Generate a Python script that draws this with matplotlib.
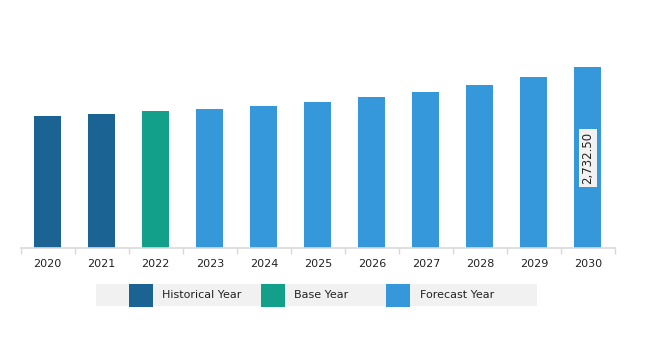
import matplotlib
matplotlib.use("Agg")
import matplotlib.pyplot as plt
from matplotlib.patches import Rectangle

years = ["2020", "2021", "2022", "2023", "2024", "2025", "2026", "2027", "2028", "2029", "2030"]
values = [2000, 2025, 2066, 2101, 2151, 2211, 2283, 2363, 2469, 2586, 2732.5]
kinds = ["Historical Year", "Historical Year", "Base Year"] + ["Forecast Year"] * 8
label_text = "2,732.50"

colors = {"Historical Year": "#1a6393", "Base Year": "#13a08a", "Forecast Year": "#3498db"}

W, H = 645, 341
fig = plt.figure(figsize=(W / 100, H / 100), dpi=100)
left, right, bottom_px, top_px = 20.7, 615, 247.7, 20
ax = fig.add_axes([left / W, (H - bottom_px) / H, (right - left) / W, (bottom_px - top_px) / H])

x = list(range(len(years)))
ax.bar(x, values, width=0.5, color=[colors[k] for k in kinds], zorder=2)
ax.set_xlim(-0.5, len(years) - 0.5)
ax.set_ylim(0, 3450)

for s in ["top", "right", "left"]:
    ax.spines[s].set_visible(False)
ax.spines["bottom"].set_color("#d9d9d9")
ax.spines["bottom"].set_linewidth(1.2)
ax.set_yticks([])
ax.set_xticks(x)
ax.set_xticklabels(years, fontsize=8, color="#222222")
ax.tick_params(axis="x", which="major", length=0, pad=8)
ax.set_xticks([i - 0.5 for i in range(len(years) + 1)], minor=True)
ax.tick_params(axis="x", which="minor", length=4, color="#d9d9d9", width=1)

ax.text(x[-1], values[-1] / 2, label_text, rotation=90, ha="center", va="center",
        fontsize=8.5, color="#222222",
        bbox=dict(boxstyle="square,pad=0.25", facecolor="#f2f2f2", edgecolor="none"))

# legend
def fx(px):
    return px / W

def fy(py):
    return (H - py) / H

fig.patches.append(Rectangle((fx(96), fy(305.7)), fx(536.7) - fx(96), fy(284) - fy(305.7),
                             transform=fig.transFigure, facecolor="#f1f1f1", edgecolor="none", zorder=0))
for (kind, px0, tx) in [("Historical Year", 128.7, 162.3), ("Base Year", 261, 294.3), ("Forecast Year", 386, 420)]:
    fig.patches.append(Rectangle((fx(px0), fy(307)), fx(24) , fy(284) - fy(307),
                                 transform=fig.transFigure, facecolor=colors[kind], edgecolor="none", zorder=1))
    fig.text(fx(tx), fy(295), kind, fontsize=8, color="#222222", va="center", ha="left")

fig.savefig("out.png", dpi=100)
